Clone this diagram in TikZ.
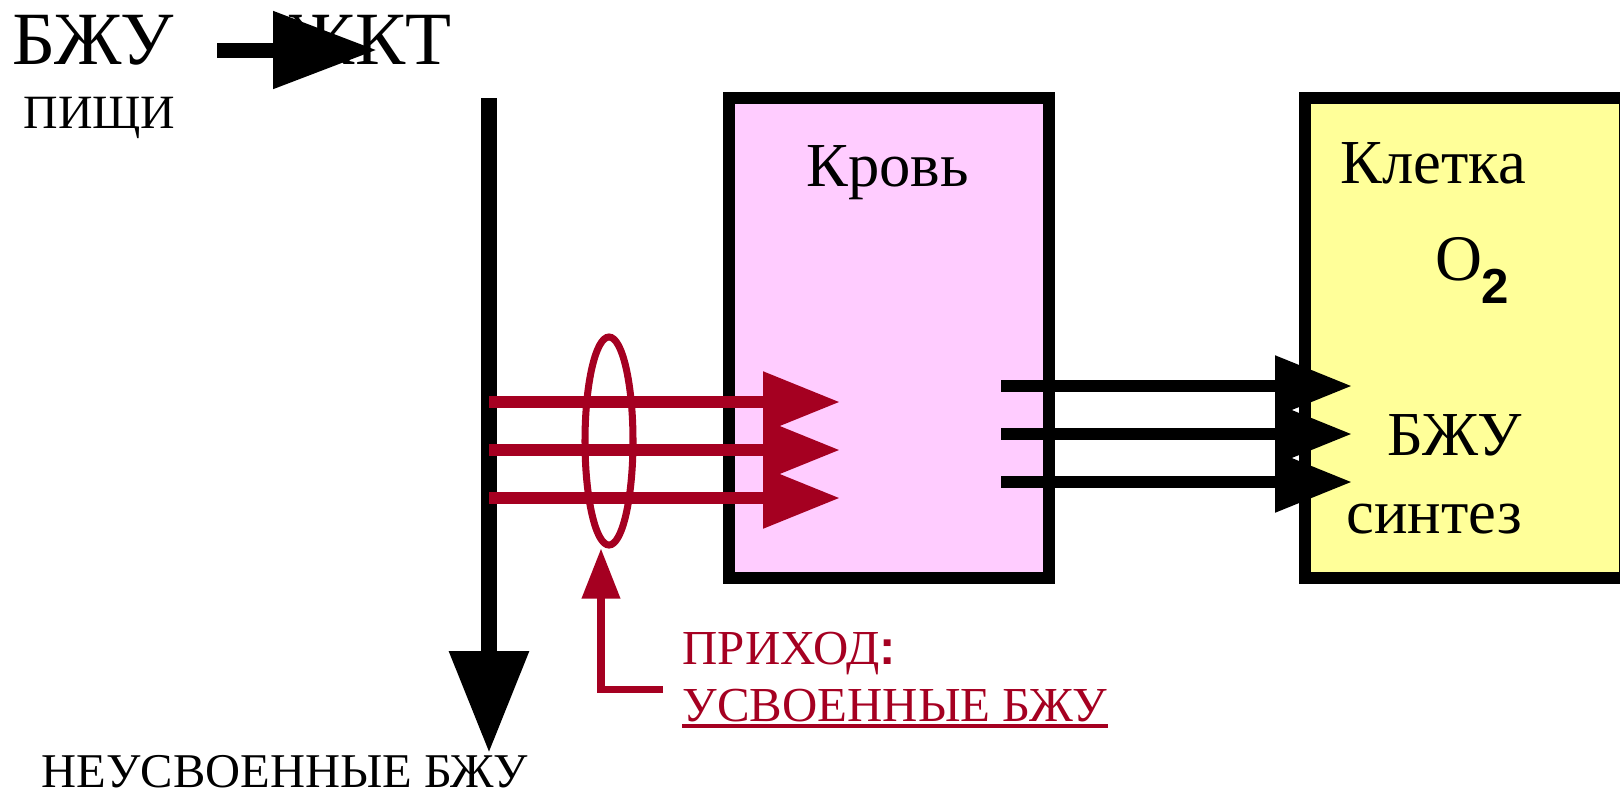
\documentclass[tikz,border=0pt]{standalone}
\usepackage{fontspec}
\setmainfont{Liberation Serif}
\newfontfamily\arialf{Liberation Sans}
\usetikzlibrary{arrows.meta,shapes.geometric}
\definecolor{pinkfill}{HTML}{FFCCFF}
\definecolor{yellowfill}{HTML}{FFFF99}
\definecolor{darkred}{HTML}{A50021}
\newcommand{\myfs}[1]{\fontsize{#1}{#1}\selectfont}
\begin{document}
\begin{tikzpicture}[x=0.1mm,y=-0.1mm,
  lbl/.style={inner sep=0pt, anchor=base west},
  box/.style={draw=black, line width=3.41pt, minimum width=32mm, minimum height=48mm, inner sep=0pt},
  redarr/.style={draw=darkred, line width=3.41pt, -{Triangle[length=7.7mm,width=5.8mm]}},
  blkarr/.style={draw=black, line width=3.41pt, -{Triangle[length=7.7mm,width=5.8mm]}},
  big/.style={font=\myfs{21.4pt}},
  mid/.style={font=\myfs{17.8pt}},
]
\useasboundingbox (0,0) rectangle (1620,795);

% boxes
\node[box, fill=pinkfill] (blood) at (889,338) {};
\node[box, fill=yellowfill] (cell) at (1465,338) {};

% top labels
\node[lbl, big] (bzu) at (12,64) {БЖУ};
\node[lbl, big, anchor=base east] (gkt) at (452,64) {ЖКТ};
\node[lbl, font=\myfs{13.6pt}] (food) at (23,128) {ПИЩИ};
\coordinate (a1) at (217,50);
\coordinate (a2) at (377,50);
\draw[line width=4.27pt, -{Triangle[length=10.4mm,width=7.4mm]}] (a1) -- (a2);

% box labels
\node[lbl, mid] (krov) at (806,186) {Кровь};
\node[lbl, mid] (klet) at (1340,183) {Клетка};
\node[lbl, font=\myfs{18.5pt}] (oxy) at (1435,280) {O};
\node[lbl, font=\myfs{14pt}\arialf\bfseries] (two) at (1481,303) {2};
\node[lbl, mid] (bzu2) at (1387,455) {БЖУ};
\node[lbl, mid] (sint) at (1346,533) {синтез};

% vertical GI tract line
\coordinate (gtop) at (489,98);
\coordinate (gbot) at (489,753);
\draw[line width=4.55pt, -{Triangle[length=10.2mm,width=7.6mm]}] (gtop) -- (gbot);
\node[lbl, font=\myfs{13.8pt}] (unabs) at (41,787) {НЕУСВОЕННЫЕ БЖУ};

% red arrows into blood
\foreach \n/\yy in {1/402,2/450,3/498}{
  \coordinate (rs\n) at (489,\yy);
  \coordinate (re\n) at (840,\yy);
  \draw[redarr] (rs\n) -- (re\n);
}
% black arrows into cell
\foreach \n/\yy in {1/386,2/434,3/482}{
  \coordinate (bs\n) at (1001,\yy);
  \coordinate (be\n) at (1352,\yy);
  \draw[blkarr] (bs\n) -- (be\n);
}

% ring
\node[draw=darkred, line width=2pt, ellipse, minimum width=4.8mm, minimum height=20.8mm, inner sep=0pt] (ring) at (609,441) {};

% income label
\node[lbl, font=\myfs{13.9pt}, text=darkred] (inc) at (682,664) {ПРИХОД{\arialf\bfseries :}};
\node[lbl, font=\myfs{13.9pt}, text=darkred] (abs) at (682,721) {УСВОЕННЫЕ БЖУ};
\draw[darkred, line width=1.4pt] ([yshift=-0.5mm]abs.base west) -- ([yshift=-0.5mm]abs.base east);
\coordinate (lstart) at (663,689);
\draw[darkred, line width=2pt, -{Triangle[length=5mm,width=3.7mm]}] (lstart) -| ([xshift=-0.8mm]ring.south);
\end{tikzpicture}
\end{document}
